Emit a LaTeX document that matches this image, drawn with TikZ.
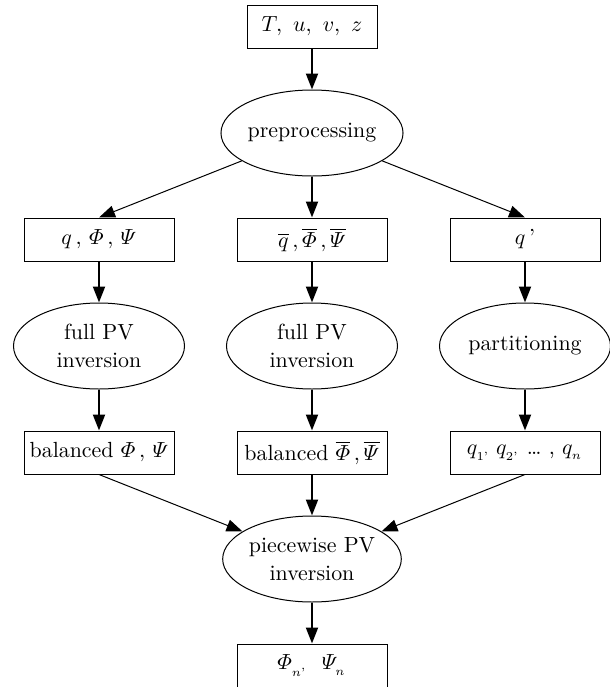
\documentclass[tikz,border=0pt,11pt]{standalone}
\usepackage{amsmath}
\usetikzlibrary{positioning,shapes.geometric,arrows.meta}

\begin{document}
\begin{tikzpicture}[node distance=20.5pt and 31pt,
		box/.style={rectangle, draw, line width=0.5pt, minimum width=75pt, minimum height=21.5pt, inner sep=2pt},
		proc/.style={ellipse, draw, line width=0.5pt, minimum width=85.5pt, minimum height=43pt, inner sep=0pt, align=center, font=\fontsize{10.95}{14}\selectfont},
		flow/.style={-{Triangle[length=8pt,width=6pt]}, line width=1pt},
		side/.style={-{Triangle[length=8pt,width=6pt]}, line width=0.5pt}]
		\useasboundingbox (0,0) rectangle (305pt,-343.5pt);

		\node (input) [box, minimum width=65pt] at (156pt,-13.25pt) {$T,\ u,\ v,\ z$};
		\node (pre) [proc, below=of input] {preprocessing};

		\node (qbar) [box, below=of pre] {$\overline{q}\,,\overline{\varPhi}\,,\overline{\varPsi}$};
		\node (q) [box, left=of qbar] {$q\,,\,\varPhi\,,\,\varPsi$};
		\node (qp) [box, right=of qbar] {$q$\,'};

		\node (invbar) [proc, below=of qbar] {full PV\\inversion};
		\node (inv) [proc, below=of q] {full PV\\inversion};
		\node (part) [proc, below=of qp] {partitioning};

		\node (balbar) [box, below=of invbar] {balanced $\overline{\varPhi}\,,\overline{\varPsi}$};
		\node (bal) [box, below=of inv] {balanced $\varPhi\,,\,\varPsi$};
		\node (qn) [box, below=of part] {$q_{_{1\text{'}}}\;q_{_{2\text{'}}}$ \ldots\ , $q_{_n}$};

		\node (pw) [proc, below=of balbar] {piecewise PV\\inversion};
		\node (out) [box, below=of pw] {$\varPhi_{_{n\text{'}}}\ \ \varPsi_{_n}$};

		\draw[flow] (input) -- (pre);
		\draw[side] (pre) -- (q.north);
		\draw[flow] (pre) -- (qbar);
		\draw[side] (pre) -- (qp.north);

		\draw[flow] (q) -- (inv);
		\draw[flow] (qbar) -- (invbar);
		\draw[flow] (qp) -- (part);

		\draw[flow] (inv) -- (bal);
		\draw[flow] (invbar) -- (balbar);
		\draw[flow] (part) -- (qn);

		\draw[side] (bal.south) -- (pw);
		\draw[flow] (balbar) -- (pw);
		\draw[side] (qn.south) -- (pw);
		\draw[flow] (pw) -- (out);

	\end{tikzpicture}
\end{document}
